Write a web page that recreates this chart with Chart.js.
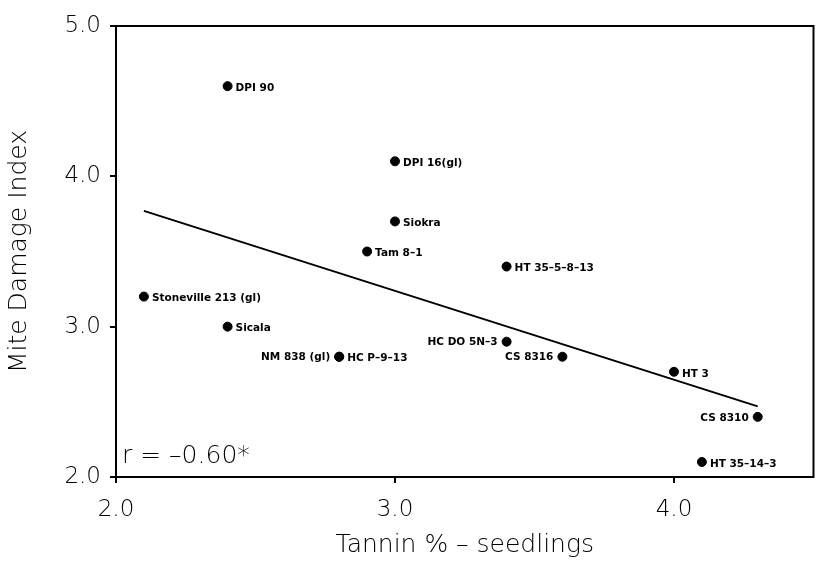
<!DOCTYPE html>
<html>
<head>
<meta charset="utf-8">
<script src="https://cdn.jsdelivr.net/npm/chart.js@4"></script>
<style>
  html, body { margin: 0; padding: 0; background: #fff; }
  canvas { display: block; }
</style>
</head>
<body>
<canvas id="chart" width="819" height="562"></canvas>
<script>
// cultivars, tannin % in seedlings, mite damage index
var cultivars = [
  "DPI 90", "DPI 16(gl)", "Siokra", "Tam 8–1", "HT 35–5–8–13",
  "Stoneville 213 (gl)", "Sicala", "NM 838 (gl)", "HC P–9–13",
  "HC DO 5N–3", "CS 8316", "HT 3", "CS 8310", "HT 35–14–3"
];
var tannin = [2.4, 3.0, 3.0, 2.9, 3.4, 2.1, 2.4, 2.8, 2.8, 3.4, 3.6, 4.0, 4.3, 4.1];
var damage = [4.6, 4.1, 3.7, 3.5, 3.4, 3.2, 3.0, 2.8, 2.8, 2.9, 2.8, 2.7, 2.4, 2.1];

// fitted regression line (ends)
var fitX = [2.1, 4.3];
var fitY = [3.77, 2.47];

var xTicks = [2.0, 3.0, 4.0];
var yTicks = [2.0, 3.0, 4.0, 5.0];
var rText = "r = –0.60*";

// labels written on the left of their point
var leftLabels = ["NM 838 (gl)", "HC DO 5N–3", "CS 8316", "CS 8310"];

var tickFont = { family: "'DejaVu Sans', sans-serif", size: 23, weight: "200" };
var titleFont = { family: "'DejaVu Sans', sans-serif", size: 25, weight: "200" };

var frame = {
  id: "frame",
  afterDraw: function (chart) {
    var a = chart.chartArea, ctx = chart.ctx;
    ctx.save();
    ctx.strokeStyle = "#000";
    ctx.lineWidth = 2;
    ctx.strokeRect(a.left, a.top, a.right - a.left, a.bottom - a.top);
    ctx.fillStyle = "#000";
    ctx.font = "200 25px 'DejaVu Sans', sans-serif";
    ctx.textBaseline = "middle";
    ctx.textAlign = "left";
    ctx.fillText(rText, a.left + 6, a.bottom - 21);
    ctx.restore();
  }
};

var pointLabels = {
  id: "pointLabels",
  afterDatasetsDraw: function (chart) {
    var ctx = chart.ctx;
    var meta = chart.getDatasetMeta(0);
    ctx.save();
    ctx.fillStyle = "#000";
    ctx.font = "bold 10.5px 'DejaVu Sans', sans-serif";
    ctx.textBaseline = "middle";
    meta.data.forEach(function (pt, i) {
      var name = cultivars[i];
      if (leftLabels.indexOf(name) >= 0) {
        ctx.textAlign = "right";
        ctx.fillText(name, pt.x - 9, pt.y + 1);
      } else {
        ctx.textAlign = "left";
        ctx.fillText(name, pt.x + 8, pt.y + 2);
      }
    });
    ctx.restore();
  }
};

new Chart("chart", {
  type: "scatter",
  data: {
    datasets: [
      {
        data: tannin.map(function (x, i) { return { x: x, y: damage[i] }; }),
        backgroundColor: "#000",
        borderColor: "#000",
        pointRadius: 4.5,
        pointHoverRadius: 4.5
      },
      {
        type: "line",
        data: fitX.map(function (x, i) { return { x: x, y: fitY[i] }; }),
        borderColor: "#000",
        borderWidth: 2,
        pointRadius: 0,
        fill: false
      }
    ]
  },
  options: {
    responsive: false,
    animation: false,
    devicePixelRatio: 1,
    layout: { padding: { left: 0, right: 4, top: 26, bottom: 0 } },
    plugins: { legend: { display: false }, tooltip: { enabled: false } },
    scales: {
      x: {
        type: "linear",
        min: 2.0,
        max: 4.5,
        afterBuildTicks: function (s) { s.ticks = xTicks.map(function (v) { return { value: v }; }); },
        afterFit: function (s) { s.height = 85; },
        border: { display: false },
        grid: { drawOnChartArea: false, drawTicks: true, tickLength: 6, color: "#000", lineWidth: 2 },
        ticks: {
          color: "#000",
          font: tickFont,
          padding: 13,
          maxRotation: 0,
          callback: function (v) { return Number(v).toFixed(1); }
        },
        title: { display: true, text: "Tannin % – seedlings", color: "#000", font: titleFont, padding: { top: 0, bottom: 2 } }
      },
      y: {
        min: 2.0,
        max: 5.0,
        afterBuildTicks: function (s) { s.ticks = yTicks.map(function (v) { return { value: v }; }); },
        afterFit: function (s) { s.width = 116; },
        border: { display: false },
        grid: { drawOnChartArea: false, drawTicks: true, tickLength: 6, color: "#000", lineWidth: 2 },
        ticks: {
          color: "#000",
          font: tickFont,
          padding: 9,
          callback: function (v) { return Number(v).toFixed(1); }
        },
        title: { display: true, text: "Mite Damage Index", color: "#000", font: titleFont, padding: { top: 4, bottom: 0 } }
      }
    }
  },
  plugins: [frame, pointLabels]
});
</script>
</body>
</html>
